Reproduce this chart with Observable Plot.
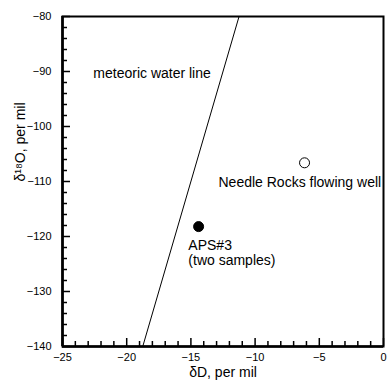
<!DOCTYPE html>
<html><head><meta charset="utf-8">
<script src="https://cdn.jsdelivr.net/npm/d3@7"></script>
<script src="https://cdn.jsdelivr.net/npm/@observablehq/plot@0.6"></script>
<style>
body{margin:0;background:#fff}
svg{font-family:"Liberation Sans",Arial,sans-serif}
</style>
</head><body><div id="chart"></div>
<script>
// Axis ticks
const xMajorTicks = [-25, -20, -15, -10, -5, 0];
const xMinorTicks = [-24,-23,-22,-21,-19,-18,-17,-16,-14,-13,-12,-11,-9,-8,-7,-6,-4,-3,-2,-1];
const yMajorTicks = [-140, -130, -120, -110, -100, -90, -80];
const yMinorTicks = [-138,-136,-134,-132,-128,-126,-124,-122,-118,-116,-114,-112,-108,-106,-104,-102,-98,-96,-94,-92,-88,-86,-84,-82];

// Meteoric water line endpoints
const mwlX = [-18.75, -11.25];
const mwlY = [-140, -80];

// Samples
const sampleNames = ["APS#3", "Needle Rocks flowing well"];
const sampleDD = [-14.4, -6.15];
const sampleD18O = [-118.2, -106.6];
const sampleFilled = [true, false];

// Annotations
const noteText = ["meteoric water line", "Needle Rocks flowing well", "APS#3", "(two samples)"];
const noteX = [-22.6, -12.85, -15.2, -15.2];
const noteY = [-90.4, -110.2, -121.6, -124.4];

const xLabel = "δD, per mil";
const yLabel = "δ¹⁸O, per mil";

const W = 387, H = 387;
const mL = 62, mR = 4, mT = 16, mB = 41;
const plotW = W - mL - mR, plotH = H - mT - mB;

const mwl = mwlX.map((x, i) => ({x, y: mwlY[i]}));
const samples = sampleNames.map((n, i) => ({name: n, x: sampleDD[i], y: sampleD18O[i], filled: sampleFilled[i]}));
const notes = noteText.map((t, i) => ({t, x: noteX[i], y: noteY[i]}));

const majLen = 8, minLen = 5;
const tickColor = "#000";

const plot = Plot.plot({
  width: W, height: H,
  marginLeft: mL, marginRight: mR, marginTop: mT, marginBottom: mB,
  style: {fontFamily: '"Liberation Sans", Arial, sans-serif', background: "#fff", color: "#000"},
  x: {domain: [-25, 0]},
  y: {domain: [-140, -80]},
  marks: [
    Plot.axisX({ticks: xMajorTicks, tickSize: 0, tickPadding: 7, fontSize: 11, label: null}),
    Plot.axisY({ticks: yMajorTicks, tickSize: 0, tickPadding: 11, fontSize: 11, label: null}),
    Plot.frame({stroke: "#000", strokeWidth: 2}),
    Plot.ruleX([-25], {stroke: "#000", strokeWidth: 2.6}),
    Plot.ruleY([-140], {stroke: "#000", strokeWidth: 2.6}),
    // inward ticks
    Plot.tickX(xMajorTicks, {x: d => d, insetTop: plotH - majLen, stroke: tickColor, strokeWidth: 1.5}),
    Plot.tickX(xMinorTicks, {x: d => d, insetTop: plotH - minLen, stroke: tickColor, strokeWidth: 1.5}),
    Plot.tickY(yMajorTicks, {y: d => d, insetRight: plotW - majLen, stroke: tickColor, strokeWidth: 1.5}),
    Plot.tickY(yMinorTicks, {y: d => d, insetRight: plotW - minLen, stroke: tickColor, strokeWidth: 1.5}),
    Plot.line(mwl, {x: "x", y: "y", stroke: "#000", strokeWidth: 1}),
    Plot.dot(samples, {x: "x", y: "y", r: 5, fill: d => d.filled ? "#000" : "#fff", stroke: "#000", strokeWidth: 1}),
    Plot.text(notes, {x: "x", y: "y", text: "t", textAnchor: "start", fontSize: 14, fill: "#000"}),
    Plot.text([xLabel], {frameAnchor: "bottom", lineAnchor: "middle", dy: 26, fontSize: 14, fill: "#000"}),
    Plot.text([yLabel], {frameAnchor: "left", lineAnchor: "middle", dx: -42, rotate: -90, fontSize: 14, fill: "#000"})
  ]
});
document.getElementById("chart").append(plot);
</script>
</body></html>
